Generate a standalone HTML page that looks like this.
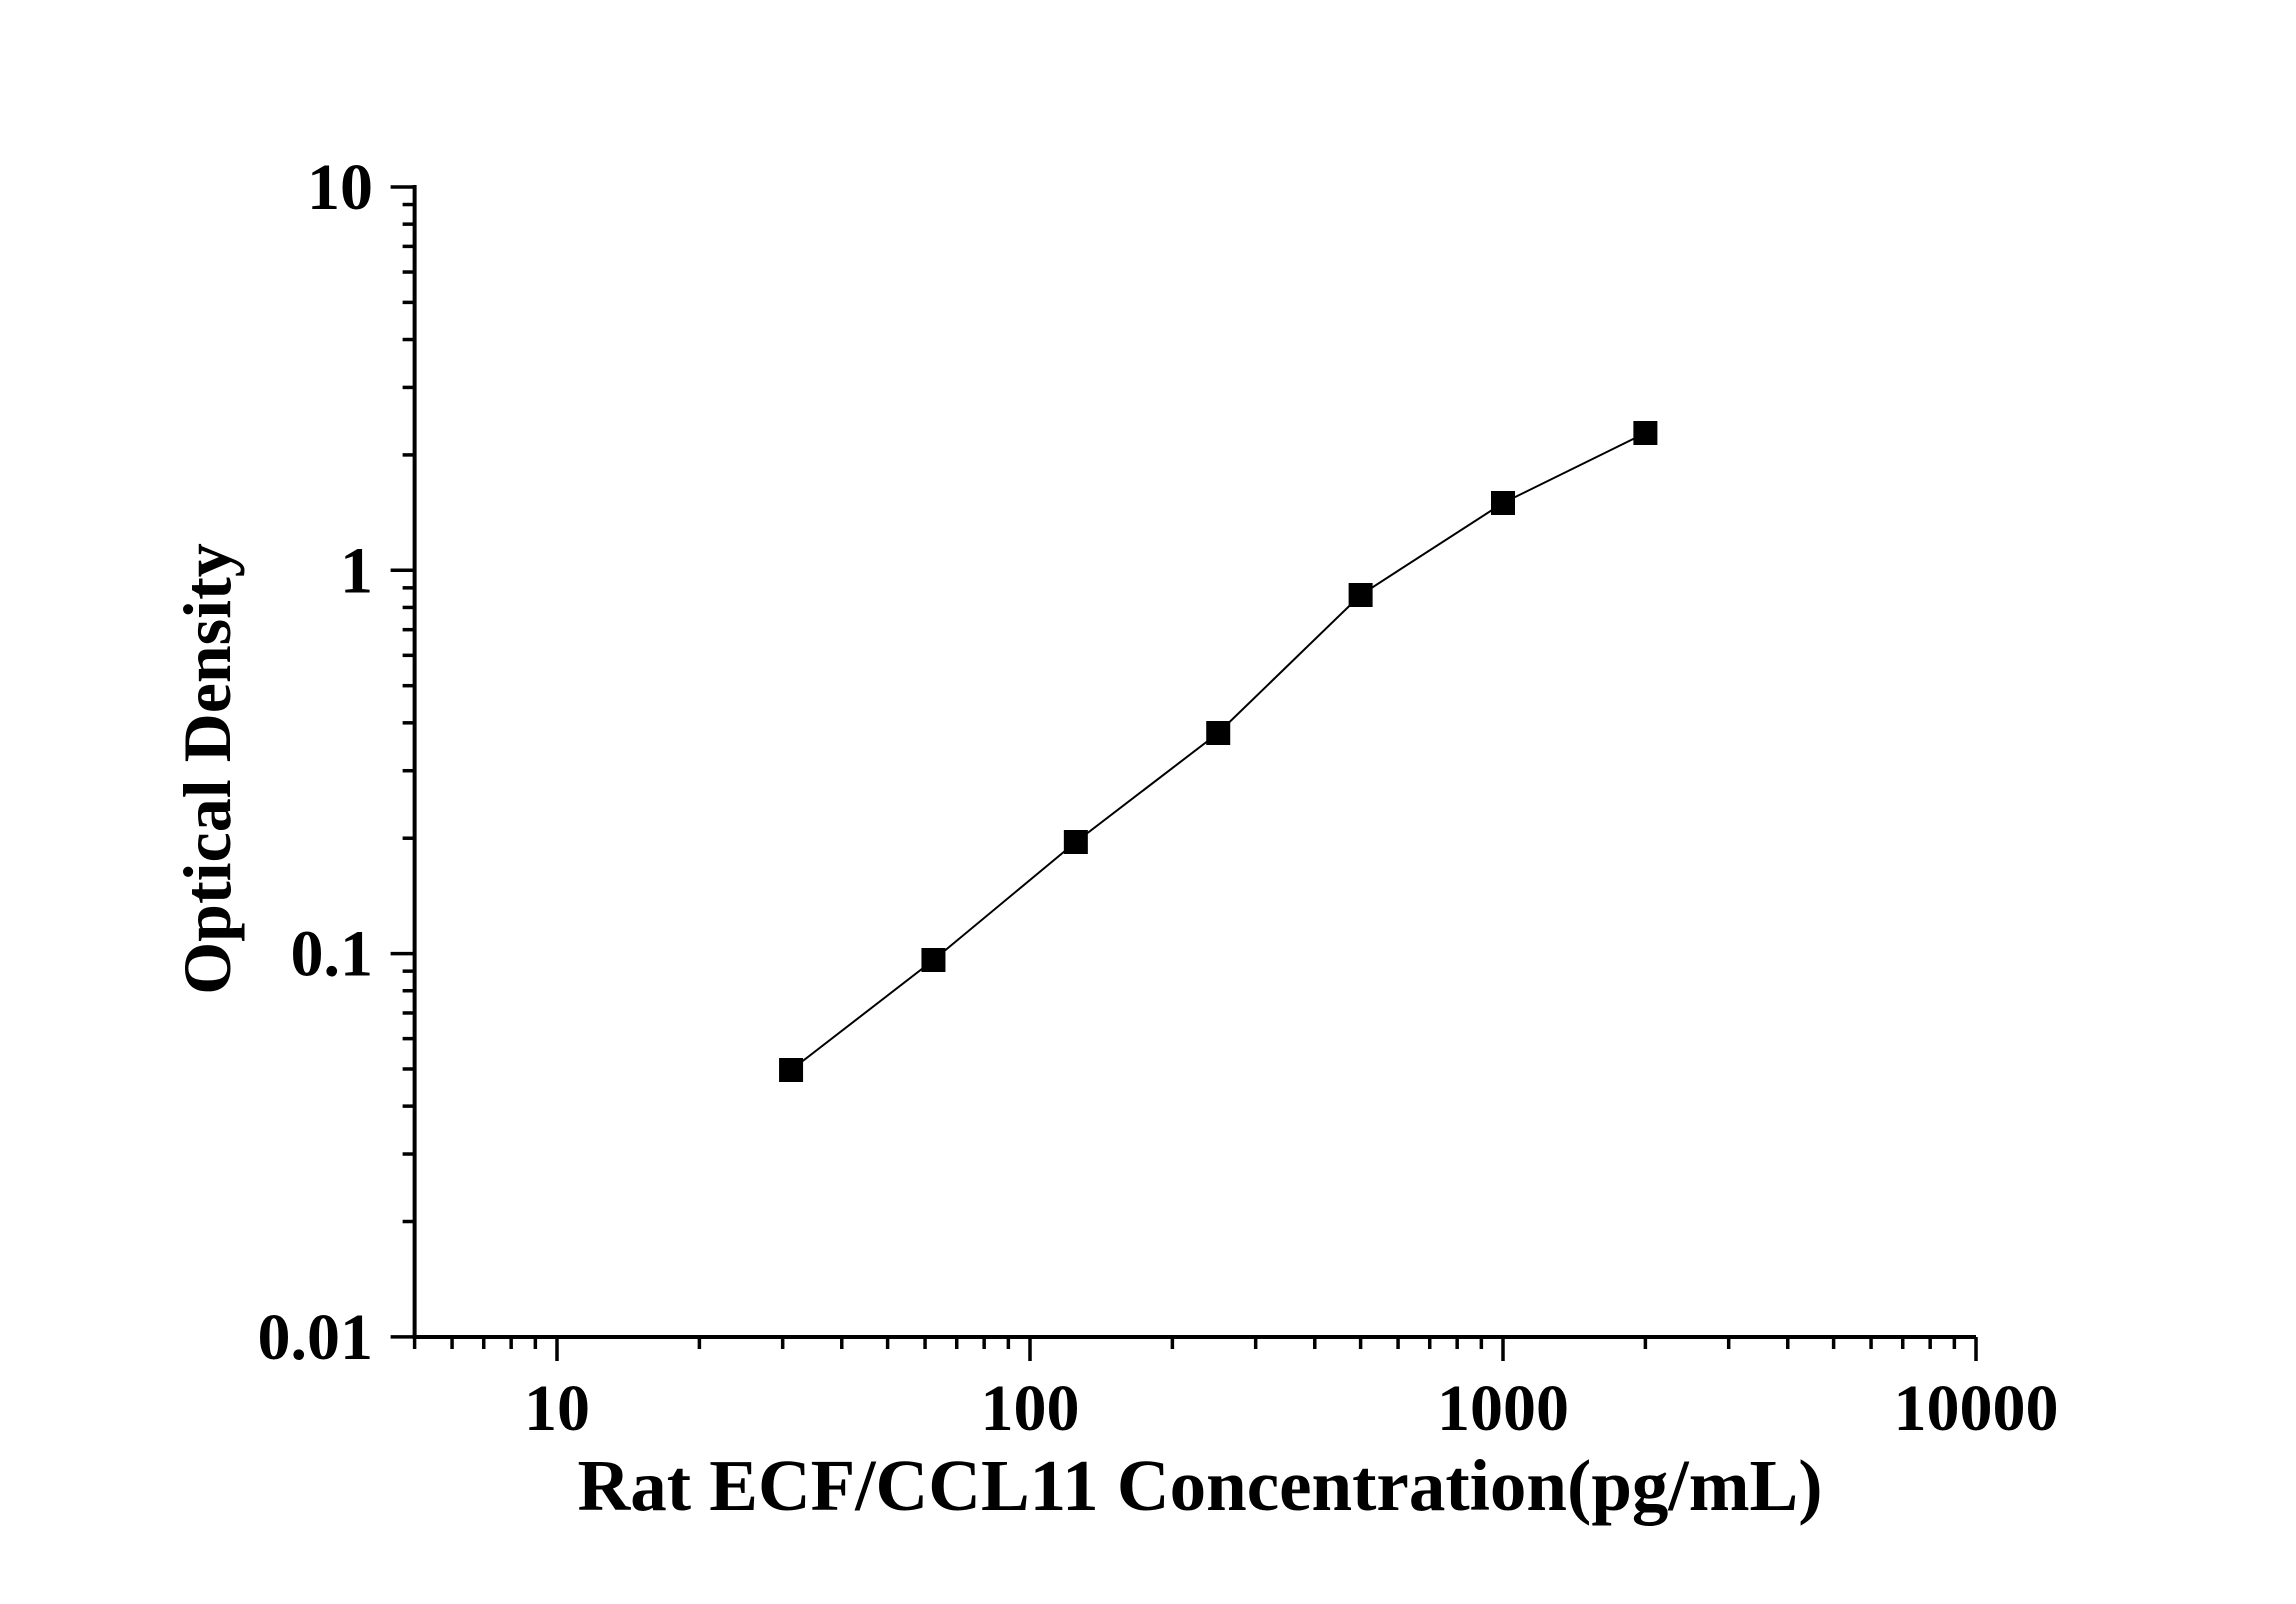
<!DOCTYPE html>
<html><head><style>body{margin:0;background:#fff}svg{display:block}</style></head><body>
<svg width="2296" height="1604" xmlns="http://www.w3.org/2000/svg" font-family="'Liberation Serif',serif" font-weight="bold">
<g id="g"></g>
<script>
const NS="http://www.w3.org/2000/svg",g=document.getElementById('g');
function el(t,a,txt){const e=document.createElementNS(NS,t);for(const k in a)e.setAttribute(k,a[k]);if(txt!=null)e.textContent=txt;g.appendChild(e);return e;}
const X=v=>557+(Math.log10(v)-1)*473, Y=v=>187+(1-Math.log10(v))*383.3;
const x0=X(5),y0=1337,x1=X(10000);
el('line',{x1:x0,y1:y0,x2:x1,y2:y0,stroke:'#000','stroke-width':4});
el('line',{x1:x0,y1:y0+2,x2:x0,y2:Y(10)-2,stroke:'#000','stroke-width':4});
for(let d=1;d<=1000;d*=10)for(let m=1;m<10;m++){const v=d*m;if(v<5)continue;const x=X(v);el('line',{x1:x,y1:y0,x2:x,y2:y0+(m==1?24:12),stroke:'#000','stroke-width':3.5});}
el('line',{x1:x1,y1:y0,x2:x1,y2:y0+24,stroke:'#000','stroke-width':3.5});
for(let d=0.01;d<9;d*=10)for(let m=1;m<10;m++){const y=Y(d*m);el('line',{x1:x0,y1:y,x2:x0-(m==1?24:12),y2:y,stroke:'#000','stroke-width':3.5});}
el('line',{x1:x0,y1:Y(10),x2:x0-24,y2:Y(10),stroke:'#000','stroke-width':3.5});
[[10,'10'],[100,'100'],[1000,'1000'],[10000,'10000']].forEach(([v,t])=>el('text',{x:X(v),y:1430,'font-size':66,'text-anchor':'middle'},t));
[[10,'10'],[1,'1'],[0.1,'0.1'],[0.01,'0.01']].forEach(([v,t])=>el('text',{x:373,y:Y(v)+22,'font-size':66,'text-anchor':'end'},t));
el('text',{x:1200,y:1510,'font-size':73,'text-anchor':'middle'},'Rat ECF/CCL11 Concentration(pg/mL)');
el('text',{x:0,y:0,'font-size':68,'text-anchor':'middle',transform:'translate(230,769) rotate(-90)'},'Optical Density');
const xs=[31.25,62.5,125,250,500,1000,2000],ys=[1070,960,842,733,595,503,433];
let p=xs.map((v,i)=>X(v).toFixed(1)+','+ys[i]).join(' ');
el('polyline',{points:p,fill:'none',stroke:'#000','stroke-width':2});
xs.forEach((v,i)=>el('rect',{x:X(v)-12,y:ys[i]-12,width:24,height:24,fill:'#000'}));
</script>
</svg>
</body></html>
